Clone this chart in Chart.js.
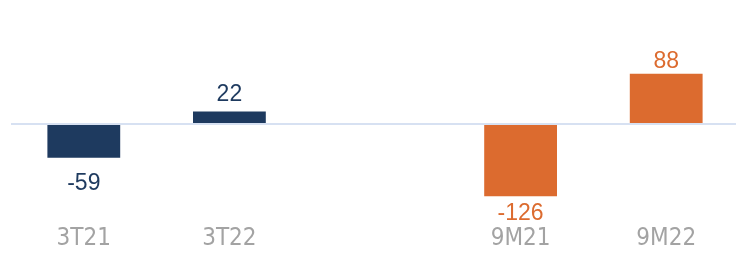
<!DOCTYPE html>
<html>
<head>
<meta charset="utf-8">
<script src="https://cdn.jsdelivr.net/npm/chart.js@4"></script>
<style>
  html, body { margin: 0; padding: 0; background: #ffffff; overflow: hidden; }
  #wrap { width: 739px; height: 253px; position: relative; }
</style>
</head>
<body>
<div id="wrap"><canvas id="c"></canvas></div>
<script>
// ---- data ----
const categories = ["3T21", "3T22", "", "9M21", "9M22"];
const values = [-59, 22, null, -126, 88];
const valueLabels = ["-59", "22", "", "-126", "88"];

// ---- styles ----
const navy = "#1e3a5f";
const orange = "#dc6b2f";
const barColors = [navy, navy, navy, orange, orange];
const labelGaps = [15, 11, 0, 7, 6];

const zeroLinePlugin = {
  id: "zeroLine",
  afterDatasetsDraw(chart) {
    const ctx = chart.ctx;
    const y = chart.scales.y.getPixelForValue(0);
    ctx.save();
    ctx.strokeStyle = "#d7e1f2";
    ctx.lineWidth = 2;
    ctx.beginPath();
    ctx.moveTo(chart.chartArea.left, y);
    ctx.lineTo(chart.width, y);
    ctx.stroke();
    // value labels
    const meta = chart.getDatasetMeta(0);
    ctx.font = "23px 'Liberation Sans', Arial, sans-serif";
    ctx.textAlign = "center";
    meta.data.forEach((bar, i) => {
      const v = values[i];
      if (v === null) return;
      ctx.fillStyle = barColors[i];
      if (v >= 0) {
        ctx.textBaseline = "alphabetic";
        ctx.fillText(valueLabels[i], bar.x, bar.y - labelGaps[i]);
      } else {
        ctx.textBaseline = "alphabetic";
        ctx.fillText(valueLabels[i], bar.x, bar.y + labelGaps[i] + 17);
      }
    });
    ctx.restore();
  }
};

new Chart(document.getElementById("c"), {
  type: "bar",
  data: {
    labels: categories,
    datasets: [{
      data: values,
      backgroundColor: barColors,
      borderWidth: 0,
      barPercentage: 0.5,
      categoryPercentage: 1.0
    }]
  },
  options: {
    responsive: true,
    maintainAspectRatio: false,
    animation: false,
    devicePixelRatio: 1,
    layout: { padding: { left: 11, right: 0, top: 0, bottom: 0 } },
    plugins: { legend: { display: false }, tooltip: { enabled: false } },
    scales: {
      x: {
        grid: { display: false, drawTicks: false },
        border: { display: false },
        ticks: {
          padding: 0,
          color: "#a3a3a3",
          font: { family: "'Liberation Sans Narrow', 'DejaVu Sans Condensed', sans-serif", size: 24 }
        }
      },
      y: {
        display: false,
        min: -175,
        max: 217
      }
    }
  },
  plugins: [zeroLinePlugin]
});
</script>
</body>
</html>
